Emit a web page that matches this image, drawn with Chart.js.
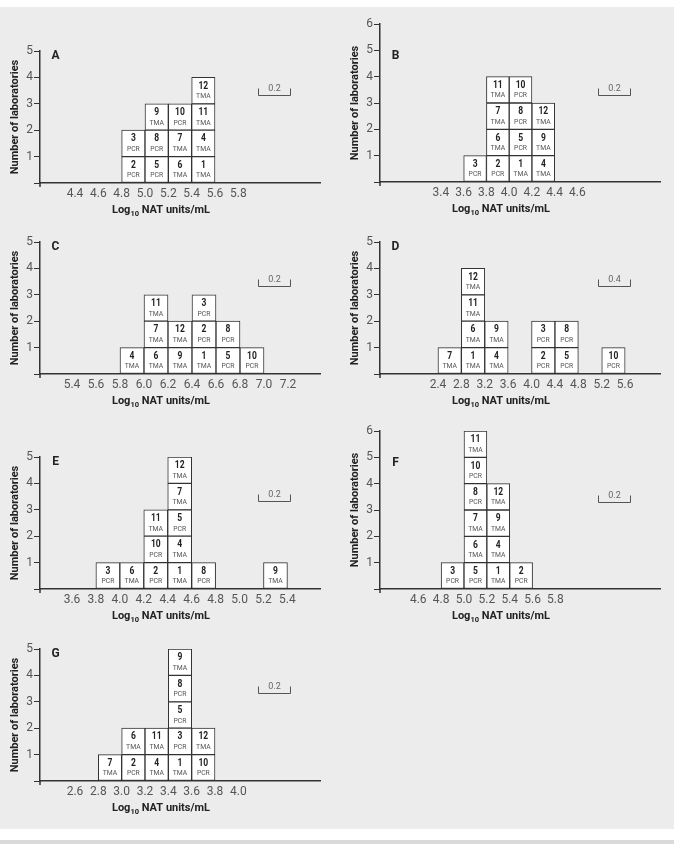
<!DOCTYPE html>
<html>
<head>
<meta charset="utf-8">
<title>Laboratory results by panel</title>
<script src="https://cdn.jsdelivr.net/npm/chart.js@4.4.1/dist/chart.umd.min.js"></script>
<style>
  body { margin: 0; background: #fff; width: 674px; height: 844px; position: relative; overflow: hidden; }
  #fig { position: absolute; left: 0; top: 7px; width: 674px; height: 822px; background: #ececec; }
  #strip { position: absolute; left: 0; top: 840px; width: 674px; height: 4px; background: #dadada; }
  canvas { position: absolute; }
</style>
</head>
<body>
<div id="fig"></div>
<div id="strip"></div>

<script>
// method used by each lab, lab 1..12
const labMethods = ["TMA", "PCR", "PCR", "TMA", "PCR", "TMA", "TMA", "PCR", "TMA", "PCR", "TMA", "TMA"];

// bin centres (log10 NAT units/mL) and the labs stacked in each bin, bottom to top
const binsA = [4.9, 5.1, 5.3, 5.5];
const labsA = [[2, 3], [5, 8, 9], [6, 7, 10], [1, 4, 11, 12]];
const ticksA = [4.4, 4.6, 4.8, 5.0, 5.2, 5.4, 5.6, 5.8];

const binsB = [3.7, 3.9, 4.1, 4.3];
const labsB = [[3], [2, 6, 7, 11], [1, 5, 8, 10], [4, 9, 12]];
const ticksB = [3.4, 3.6, 3.8, 4.0, 4.2, 4.4, 4.6];

const binsC = [5.9, 6.1, 6.3, 6.5, 6.7, 6.9];
const labsC = [[4], [6, 7, 11], [9, 12], [1, 2, 3], [5, 8], [10]];
const ticksC = [5.4, 5.6, 5.8, 6.0, 6.2, 6.4, 6.6, 6.8, 7.0, 7.2];

const binsD = [2.6, 3.0, 3.4, 4.2, 4.6, 5.4];
const labsD = [[7], [1, 6, 11, 12], [4, 9], [2, 3], [5, 8], [10]];
const ticksD = [2.4, 2.8, 3.2, 3.6, 4.0, 4.4, 4.8, 5.2, 5.6];

const binsE = [3.9, 4.1, 4.3, 4.5, 4.7, 5.3];
const labsE = [[3], [6], [2, 10, 11], [1, 4, 5, 7, 12], [8], [9]];
const ticksE = [3.6, 3.8, 4.0, 4.2, 4.4, 4.6, 4.8, 5.0, 5.2, 5.4];

const binsF = [4.9, 5.1, 5.3, 5.5];
const labsF = [[3], [5, 6, 7, 8, 10, 11], [1, 4, 9, 12], [2]];
const ticksF = [4.6, 4.8, 5.0, 5.2, 5.4, 5.6, 5.8];

const binsG = [2.9, 3.1, 3.3, 3.5, 3.7];
const labsG = [[7], [2, 6], [4, 11], [1, 3, 5, 8, 9], [10, 12]];
const ticksG = [2.6, 2.8, 3.0, 3.2, 3.4, 3.6, 3.8, 4.0];

const FONT = "Roboto, 'Liberation Sans', sans-serif";
const UNIT = 26.4;   // px per laboratory

// layout of the seven panels
const panels = [
  { letter: "A", bins: binsA, labs: labsA, ticks: ticksA, xMin: 4.25, xMax: 6.35, yMax: 5, col: 0, axisY: 182.7, bar: "0.2" },
  { letter: "B", bins: binsB, labs: labsB, ticks: ticksB, xMin: 3.04, xMax: 5.15, yMax: 6, col: 1, axisY: 182.7, bar: "0.2" },
  { letter: "C", bins: binsC, labs: labsC, ticks: ticksC, xMin: 5.25, xMax: 7.35, yMax: 5, col: 0, axisY: 374.3, bar: "0.2" },
  { letter: "D", bins: binsD, labs: labsD, ticks: ticksD, xMin: 1.675, xMax: 5.93, yMax: 5, col: 1, axisY: 374.3, bar: "0.4" },
  { letter: "E", bins: binsE, labs: labsE, ticks: ticksE, xMin: 3.45, xMax: 5.555, yMax: 5, col: 0, axisY: 589.3, bar: "0.2" },
  { letter: "F", bins: binsF, labs: labsF, ticks: ticksF, xMin: 4.44, xMax: 6.54, yMax: 6, col: 1, axisY: 589.3, bar: "0.2" },
  { letter: "G", bins: binsG, labs: labsG, ticks: ticksG, xMin: 2.45, xMax: 4.55, yMax: 5, col: 0, axisY: 781, bar: "0.2" }
];

Chart.defaults.font.family = FONT;

// one dataset per stack level so the boxes pile up
function buildDatasets(bins, labs) {
  const levels = Math.max(...labs.map(s => s.length));
  const sets = [];
  for (let k = 0; k < levels; k++) {
    const data = [];
    bins.forEach((b, i) => {
      if (labs[i][k] !== undefined) data.push({ x: b, y: 1, lab: labs[i][k] });
    });
    sets.push({
      data,
      backgroundColor: "#fff",
      borderColor: "#333",
      borderWidth: 1,
      borderSkipped: false,
      barPercentage: 1,
      categoryPercentage: 1
    });
  }
  return sets;
}

// condensed text, the original uses a narrow face
function narrowText(ctx, text, x, y, squeeze) {
  ctx.save();
  ctx.translate(x, y);
  ctx.scale(squeeze, 1);
  ctx.fillText(text, 0, 0);
  ctx.restore();
}

// lab number + method inside every box
const boxLabels = {
  id: "boxLabels",
  afterDatasetsDraw(chart) {
    const ctx = chart.ctx;
    ctx.save();
    ctx.textAlign = "center";
    ctx.textBaseline = "middle";
    chart.data.datasets.forEach((ds, di) => {
      chart.getDatasetMeta(di).data.forEach((bar, i) => {
        const lab = ds.data[i].lab;
        const top = Math.min(bar.y, bar.base);
        ctx.fillStyle = "#222";
        ctx.font = `bold 10px ${FONT}`;
        narrowText(ctx, String(lab), bar.x, top + 8.7, 0.85);
        ctx.fillStyle = "#555";
        ctx.font = `8px ${FONT}`;
        narrowText(ctx, labMethods[lab - 1], bar.x, top + 18.7, 0.85);
      });
    });
    ctx.restore();
  }
};

// panel letter, scale bracket, axis stub and the x title with subscript
const decor = {
  id: "decor",
  afterDraw(chart, args, opts) {
    const { ctx, chartArea: a } = chart;
    const y = chart.scales.y;
    ctx.save();

    ctx.strokeStyle = "#333";
    ctx.lineWidth = 1.5;
    ctx.beginPath();
    ctx.moveTo(a.left, a.bottom);
    ctx.lineTo(a.left, a.bottom + 4);
    ctx.stroke();

    ctx.textAlign = "center";
    ctx.textBaseline = "middle";
    ctx.fillStyle = "#222";
    ctx.font = `bold 12px ${FONT}`;
    ctx.fillText(opts.letter, a.left + 15.5, y.getPixelForValue(4.8));

    const by = Math.round(y.getPixelForValue(3.32)) + 0.5;
    const bx0 = a.left + 218.5, bx1 = a.left + 250.5;
    ctx.strokeStyle = "#555";
    ctx.lineWidth = 1;
    ctx.beginPath();
    ctx.moveTo(bx0, by - 7);
    ctx.lineTo(bx0, by);
    ctx.lineTo(bx1, by);
    ctx.lineTo(bx1, by - 7);
    ctx.stroke();
    ctx.fillStyle = "#666";
    ctx.font = `9px ${FONT}`;
    ctx.fillText(opts.bar, (bx0 + bx1) / 2, by - 7);

    const big = `bold 11px ${FONT}`, small = `bold 7.5px ${FONT}`;
    ctx.font = big;
    const w1 = ctx.measureText("Log").width;
    const w3 = ctx.measureText(" NAT units/mL").width;
    ctx.font = small;
    const w2 = ctx.measureText("10").width;
    let x = a.left + 121 - (w1 + w2 + w3) / 2;
    const base = a.bottom + 30;
    ctx.textAlign = "left";
    ctx.textBaseline = "alphabetic";
    ctx.fillStyle = "#222";
    ctx.font = big;
    ctx.fillText("Log", x, base);
    x += w1;
    ctx.font = small;
    ctx.fillText("10", x, base + 3);
    x += w2;
    ctx.font = big;
    ctx.fillText(" NAT units/mL", x, base);

    ctx.restore();
  }
};

panels.forEach(p => {
  const padTop = 10, xAxisH = 40;
  const plotH = p.yMax * UNIT;
  const canvas = document.createElement("canvas");
  canvas.width = 337;
  canvas.height = Math.round(plotH + padTop + xAxisH);
  canvas.style.left = (p.col * 337) + "px";
  canvas.style.top = (p.axisY - plotH - padTop) + "px";
  canvas.style.width = canvas.width + "px";
  canvas.style.height = canvas.height + "px";
  document.body.appendChild(canvas);

  new Chart(canvas, {
    type: "bar",
    data: { datasets: buildDatasets(p.bins, p.labs) },
    options: {
      responsive: false,
      devicePixelRatio: 1,
      animation: false,
      layout: { padding: { left: p.col ? 3 : 0, right: p.col ? 14 : 17, top: padTop, bottom: 0 } },
      plugins: {
        legend: { display: false },
        tooltip: { enabled: false },
        decor: { letter: p.letter, bar: p.bar }
      },
      scales: {
        x: {
          type: "linear",
          stacked: true,
          min: p.xMin,
          max: p.xMax,
          afterBuildTicks: s => { s.ticks = p.ticks.map(v => ({ value: v })); },
          afterFit: s => { s.height = xAxisH; },
          ticks: {
            autoSkip: false,
            maxRotation: 0,
            padding: 4,
            color: "#555",
            font: { size: 12 },
            callback: v => Number(v).toFixed(1)
          },
          grid: { display: false, drawTicks: false },
          border: { display: true, color: "#333", width: 1.5 }
        },
        y: {
          stacked: true,
          min: 0,
          max: p.yMax,
          afterFit: s => { s.width = 40; },
          ticks: {
            stepSize: 1,
            padding: 1,
            color: "#555",
            font: { size: 12 },
            callback: v => v === 0 ? "" : v
          },
          grid: { drawOnChartArea: false, drawTicks: true, tickLength: 6, color: "#333", lineWidth: 1 },
          border: { display: true, color: "#333", width: 1.5 },
          title: {
            display: true,
            text: "Number of laboratories",
            color: "#222",
            font: { size: 11, weight: "bold" },
            padding: { top: 8.5, bottom: 0 }
          }
        }
      }
    },
    plugins: [boxLabels, decor]
  });
});
</script>
</body>
</html>
